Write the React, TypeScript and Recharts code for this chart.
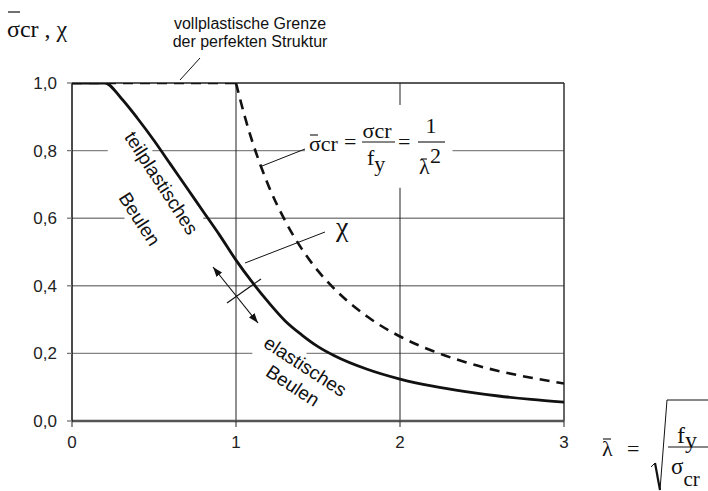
import React from 'react';
import { LineChart, Line, XAxis, YAxis, ReferenceLine } from 'recharts';

// χ buckling curve (solid)
const chiLambda = [0, 0.2, 0.3, 0.4, 0.5, 0.6, 0.7, 0.8, 0.9, 1.0, 1.1, 1.2, 1.3, 1.4, 1.5, 1.6, 1.8, 2.0, 2.2, 2.4, 2.6, 2.8, 3.0];
const chiValues = [1, 1, 0.955, 0.895, 0.83, 0.76, 0.69, 0.62, 0.55, 0.476, 0.41, 0.35, 0.296, 0.255, 0.22, 0.193, 0.153, 0.124, 0.103, 0.087, 0.074, 0.064, 0.056];

// full-plastic plateau (dashed)
const plateauLambda = [0, 1];
const plateauValues = [1, 1];

// elastic critical stress 1/λ² (dashed)
const elasticLambda = [1.0, 1.05, 1.1, 1.15, 1.2, 1.3, 1.4, 1.5, 1.6, 1.8, 2.0, 2.2, 2.4, 2.6, 2.8, 3.0];
const elasticValues = [1.0, 0.907, 0.826, 0.756, 0.694, 0.592, 0.51, 0.444, 0.391, 0.309, 0.25, 0.207, 0.174, 0.148, 0.128, 0.111];

const xTicks = [0, 1, 2, 3];
const yTicks = [0, 0.2, 0.4, 0.6, 0.8, 1.0];

const chiData = chiLambda.map((x, i) => ({ x, y: chiValues[i] }));
const plateauData = plateauLambda.map((x, i) => ({ x, y: plateauValues[i] }));
const elasticData = elasticLambda.map((x, i) => ({ x, y: elasticValues[i] }));

// grid line pieces (gaps where annotations sit)
const hGrid: { y: number; parts: [number, number][] }[] = [
  { y: 0.2, parts: [[0, 1.1], [1.43, 3]] },
  { y: 0.4, parts: [[0, 3]] },
  { y: 0.6, parts: [[0, 0.32], [0.8, 3]] },
  { y: 0.8, parts: [[0, 0.218], [0.49, 1.42], [2.32, 3]] },
];
const vGrid2: [number, number][] = [[0, 0.69], [0.935, 1]];

const serif = '"Liberation Serif", "Times New Roman", serif';
const sans = '"Liberation Sans", Arial, sans-serif';
const ink = '#111';

export default function App() {
  return (
    <div style={{ position: 'absolute', left: 0, top: 0, width: 708, height: 491, background: '#fff' }}>
      <LineChart width={708} height={491} margin={{ top: 83, right: 144, bottom: 40, left: 12 }}>
        <XAxis
          type="number"
          dataKey="x"
          domain={[0, 3]}
          ticks={xTicks}
          height={30}
          axisLine={{ stroke: '#555', strokeWidth: 2.5 }}
          tickLine={{ stroke: '#222', strokeWidth: 1 }}
          tickSize={6}
          tickMargin={9}
          tick={{ fill: '#222', fontSize: 17, fontFamily: sans }}
          allowDataOverflow
        />
        <YAxis
          type="number"
          domain={[0, 1]}
          ticks={yTicks}
          width={60}
          axisLine={{ stroke: ink, strokeWidth: 1.5 }}
          tickLine={{ stroke: '#777', strokeWidth: 1.3 }}
          tickSize={5}
          tickMargin={10}
          tickFormatter={(v: number) => v.toFixed(1).replace('.', ',')}
          tick={{ fill: '#222', fontSize: 17, fontFamily: sans }}
          allowDataOverflow
        />
        {hGrid.flatMap((g) =>
          g.parts.map((p, i) => (
            <ReferenceLine
              key={`h${g.y}-${i}`}
              segment={[{ x: p[0], y: g.y }, { x: p[1], y: g.y }]}
              stroke="#858585"
              strokeWidth={1.4}
            />
          ))
        )}
        <ReferenceLine x={1} stroke="#222" strokeWidth={1} />
        {vGrid2.map((p, i) => (
          <ReferenceLine key={`v2-${i}`} segment={[{ x: 2, y: p[0] }, { x: 2, y: p[1] }]} stroke="#222" strokeWidth={1} />
        ))}
        <ReferenceLine x={3} stroke="#333" strokeWidth={1.5} />
        <ReferenceLine y={1} stroke="#222" strokeWidth={1.6} />
        <Line data={plateauData} dataKey="y" type="linear" stroke={ink} strokeWidth={2.6} strokeDasharray="10 7" dot={false} isAnimationActive={false} />
        <Line data={elasticData} dataKey="y" type="monotone" stroke={ink} strokeWidth={2.6} strokeDasharray="10 7" dot={false} isAnimationActive={false} />
        <Line data={chiData} dataKey="y" type="monotone" stroke={ink} strokeWidth={2.8} dot={false} isAnimationActive={false} />
      </LineChart>

      <svg width={708} height={491} style={{ position: 'absolute', left: 0, top: 0, pointerEvents: 'none' }}>
        <defs>
          <marker id="ah" viewBox="0 0 10 10" refX="10" refY="5" markerWidth="10" markerHeight="7" orient="auto-start-reverse" markerUnits="userSpaceOnUse" preserveAspectRatio="none">
            <path d="M0,0 L10,5 L0,10 z" fill={ink} />
          </marker>
        </defs>

        {/* axis title */}
        <line x1={8} y1={12} x2={20} y2={12} stroke={ink} strokeWidth={1.2} />
        <text x={7} y={37} fontFamily={serif} fontSize={24} fill={ink}>σcr , χ</text>

        {/* vollplastische Grenze */}
        <text x={250} y={29} textAnchor="middle" fontFamily={sans} fontSize={16} fill={ink}>vollplastische Grenze</text>
        <text x={250} y={47} textAnchor="middle" fontFamily={sans} fontSize={16} fill={ink}>der perfekten Struktur</text>
        <line x1={200} y1={58} x2={180} y2={80} stroke={ink} strokeWidth={1} />

        {/* formula sigma_cr */}
        <line x1={310} y1={135} x2={318} y2={135} stroke={ink} strokeWidth={1.1} />
        <text x={309} y={151} fontFamily={serif} fontSize={22} fill={ink}>σcr</text>
        <text x={344} y={149} fontFamily={serif} fontSize={22} fill={ink}>=</text>
        <text x={377} y={138} textAnchor="middle" fontFamily={serif} fontSize={22} fill={ink}>σcr</text>
        <line x1={362} y1={142} x2={395} y2={142} stroke={ink} strokeWidth={1.1} />
        <text x={367} y={165} fontFamily={serif} fontSize={22} fill={ink}>f<tspan dy={6}>y</tspan></text>
        <text x={398} y={149} fontFamily={serif} fontSize={22} fill={ink}>=</text>
        <text x={431} y={133} textAnchor="middle" fontFamily={serif} fontSize={22} fill={ink}>1</text>
        <line x1={418} y1={142} x2={445} y2={142} stroke={ink} strokeWidth={1.1} />
        <line x1={421} y1={159} x2={427} y2={159} stroke={ink} strokeWidth={1.1} />
        <text x={419} y={174} fontFamily={serif} fontSize={22} fill={ink}>λ</text>
        <text x={430} y={163} fontFamily={serif} fontSize={22} fill={ink}>2</text>
        <line x1={305} y1={149} x2={262} y2={166} stroke={ink} strokeWidth={1} />

        {/* chi label */}
        <text x={336} y={236} fontFamily={serif} fontSize={28} fill={ink}>χ</text>
        <line x1={325} y1={232} x2={245} y2={263} stroke={ink} strokeWidth={1} />

        {/* double arrow + divider */}
        <line x1={213} y1={267} x2={258} y2={323} stroke={ink} strokeWidth={1.1} markerStart="url(#ah)" markerEnd="url(#ah)" />
        <line x1={227} y1={303} x2={261} y2={279} stroke={ink} strokeWidth={1.1} />

        {/* teilplastisches Beulen */}
        <text x={0} y={0} transform="translate(161.5,183) rotate(57)" textAnchor="middle" dominantBaseline="central" fontFamily={sans} fontSize={19} fill={ink}>teilplastisches</text>
        <text x={0} y={0} transform="translate(139.5,219) rotate(57)" textAnchor="middle" dominantBaseline="central" fontFamily={sans} fontSize={19} fill={ink}>Beulen</text>

        {/* elastisches Beulen */}
        <g transform="translate(299,376) rotate(33)">
          <text x={0} y={-11.5} textAnchor="middle" dominantBaseline="central" fontFamily={sans} fontSize={19} fill={ink}>elastisches</text>
          <text x={0} y={11.5} textAnchor="middle" dominantBaseline="central" fontFamily={sans} fontSize={19} fill={ink}>Beulen</text>
        </g>

        {/* lambda definition */}
        <line x1={603} y1={439} x2={611} y2={439} stroke={ink} strokeWidth={1.1} />
        <text x={602} y={456} fontFamily={serif} fontSize={22} fill={ink}>λ</text>
        <text x={627} y={456} fontFamily={serif} fontSize={22} fill={ink}>=</text>
        <polyline points="651,467 655,463" fill="none" stroke={ink} strokeWidth={1} />
        <line x1={655} y1={463} x2={660} y2={490} stroke={ink} strokeWidth={2.2} />
        <polyline points="660,490 667,400 708,400" fill="none" stroke={ink} strokeWidth={1} />
        <text x={677} y={443} fontFamily={serif} fontSize={24} fill={ink}>f<tspan dy={5}>y</tspan></text>
        <line x1={668} y1={447} x2={708} y2={447} stroke={ink} strokeWidth={1.1} />
        <text x={671} y={474} fontFamily={serif} fontSize={23} fill={ink}>σ<tspan dy={12} fontSize={21}>cr</tspan></text>
      </svg>
    </div>
  );
}
